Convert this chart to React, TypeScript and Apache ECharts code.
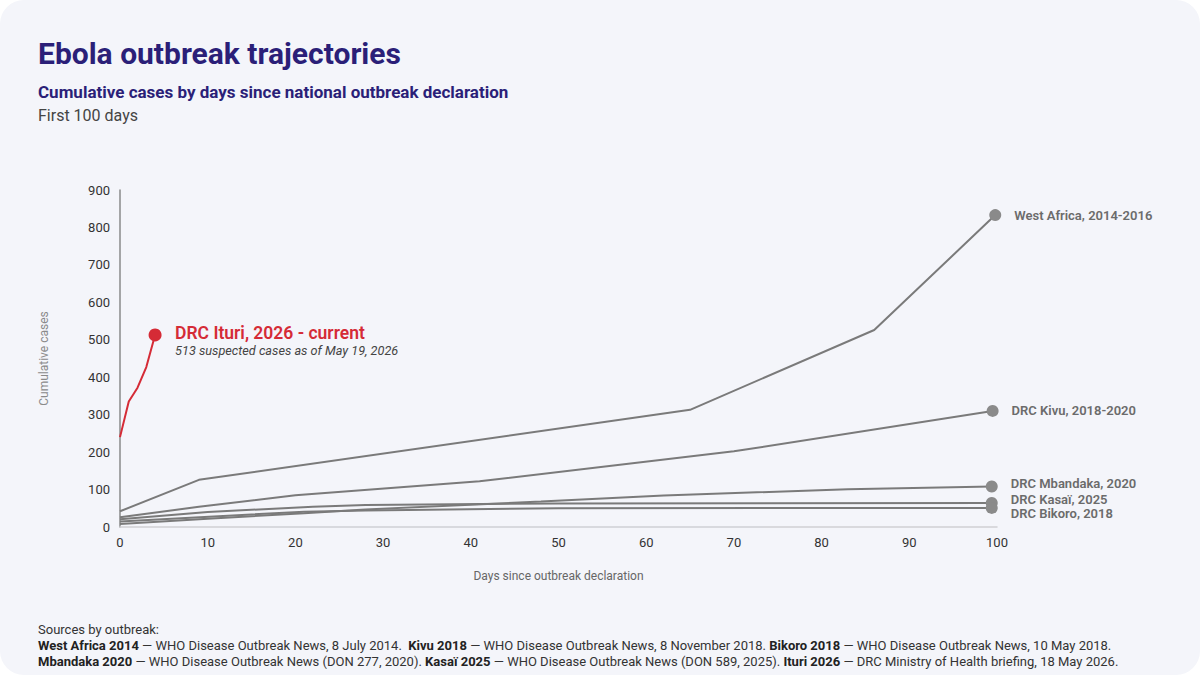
import { useEffect, useRef } from 'react';
import * as echarts from 'echarts';

// Days since declaration / cumulative cases
const westAfricaDays = [0, 9, 65, 86, 99.8];
const westAfricaCases = [42, 126, 313, 526, 833];

const kivuDays = [0, 9, 20, 41, 70, 99.5];
const kivuCases = [26, 54, 85, 122, 202, 310];

const mbandakaDays = [0, 10, 21, 28, 48, 62, 83, 99.4];
const mbandakaCases = [8, 22, 37, 47, 68, 84, 101, 108];

const kasaiDays = [0, 10, 22, 28, 50, 99.4];
const kasaiCases = [21, 40, 54, 59, 63, 64];

const bikoroDays = [0, 21, 28, 50, 99.4];
const bikoroCases = [15, 41, 44, 50, 51];

const ituriDays = [0, 1, 2, 3, 4];
const ituriCases = [240, 335, 372, 427, 513];

const FONT = 'Roboto, "Noto Sans", sans-serif';
const GREY_LINE = '#7a7a7a';
const GREY_DOT = '#8a8a8a';
const RED = '#d52b36';
const INK = '#2b1f78';

function pairs(days: number[], cases: number[]) {
  return days.map((d, i) => [d, cases[i]]);
}

function greySeries(name: string, days: number[], cases: number[], dy: number) {
  const last = days.length - 1;
  return {
    name,
    type: 'line',
    data: pairs(days, cases),
    symbol: 'circle',
    showSymbol: true,
    showAllSymbol: true,
    symbolSize: (_v: any, p: any) => (p.dataIndex === last ? 12 : 0),
    itemStyle: { color: GREY_DOT },
    lineStyle: { color: GREY_LINE, width: 2 },
    emphasis: { disabled: true },
    endLabel: {
      show: true,
      formatter: name,
      offset: [11, dy],
      color: '#6b6b6b',
      fontFamily: FONT,
      fontSize: 13,
      fontWeight: 600
    },
    z: 2
  };
}

export default function App() {
  const chartRef = useRef<HTMLDivElement>(null);

  useEffect(() => {
    document.body.style.margin = '0';
    if (!chartRef.current) return;
    const chart = echarts.init(chartRef.current, null, { renderer: 'svg' });

    const ituriLast = ituriDays.length - 1;

    const option: any = {
      animation: false,
      backgroundColor: 'transparent',
      textStyle: { fontFamily: FONT },
      grid: { left: 120, right: 203, top: 190, bottom: 148 },
      xAxis: {
        type: 'value',
        min: 0,
        max: 100,
        interval: 10,
        name: 'Days since outbreak declaration',
        nameLocation: 'middle',
        nameGap: 43,
        nameTextStyle: { color: '#666', fontSize: 12, fontFamily: FONT },
        axisLine: { show: true, lineStyle: { color: '#cfcfd4', width: 1.5 } },
        axisTick: { show: false },
        splitLine: { show: false },
        axisLabel: { color: '#333', fontSize: 13, margin: 9, fontFamily: FONT }
      },
      yAxis: {
        type: 'value',
        min: 0,
        max: 900,
        interval: 100,
        name: 'Cumulative cases',
        nameLocation: 'middle',
        nameGap: 70,
        nameRotate: 90,
        nameTextStyle: { color: '#8a8a8a', fontSize: 12, fontFamily: FONT },
        axisLine: { show: true, lineStyle: { color: '#8a8a8a', width: 1.5 } },
        axisTick: { show: false },
        splitLine: { show: false },
        axisLabel: { color: '#333', fontSize: 13, margin: 10, fontFamily: FONT }
      },
      series: [
        greySeries('West Africa, 2014-2016', westAfricaDays, westAfricaCases, 0),
        greySeries('DRC Kivu, 2018-2020', kivuDays, kivuCases, 0),
        greySeries('DRC Mbandaka, 2020', mbandakaDays, mbandakaCases, -3),
        greySeries('DRC Kasaï, 2025', kasaiDays, kasaiCases, -4),
        greySeries('DRC Bikoro, 2018', bikoroDays, bikoroCases, 6),
        {
          name: 'DRC Ituri, 2026 - current',
          type: 'line',
          data: pairs(ituriDays, ituriCases),
          symbol: 'circle',
          showSymbol: true,
          showAllSymbol: true,
          symbolSize: (_v: any, p: any) => (p.dataIndex === ituriLast ? 13 : 0),
          itemStyle: { color: RED },
          lineStyle: { color: RED, width: 2 },
          emphasis: { disabled: true },
          endLabel: {
            show: true,
            offset: [12, 6],
            formatter: '{t|DRC Ituri, 2026 - current}\n{s|513 suspected cases as of May 19, 2026}',
            rich: {
              t: { color: RED, fontSize: 17.5, fontWeight: 600, fontFamily: FONT, lineHeight: 20 },
              s: { color: '#444', fontSize: 12.7, fontStyle: 'italic', fontFamily: FONT, lineHeight: 16 }
            }
          },
          z: 3
        }
      ],
      graphic: [
        {
          type: 'text',
          x: 38,
          y: 53,
          style: {
            text: 'Ebola outbreak trajectories',
            fill: INK,
            fontFamily: FONT,
            fontSize: 30,
            fontWeight: 'bold',
            verticalAlign: 'middle'
          }
        },
        {
          type: 'text',
          x: 38,
          y: 92,
          style: {
            text: 'Cumulative cases by days since national outbreak declaration',
            fill: INK,
            fontFamily: FONT,
            fontSize: 17,
            fontWeight: 'bold',
            verticalAlign: 'middle'
          }
        },
        {
          type: 'text',
          x: 38,
          y: 115,
          style: {
            text: 'First 100 days',
            fill: '#444',
            fontFamily: FONT,
            fontSize: 16,
            verticalAlign: 'middle'
          }
        },
        {
          type: 'text',
          x: 38,
          y: 629,
          style: {
            text: 'Sources by outbreak:',
            fill: '#333',
            fontFamily: FONT,
            fontSize: 13,
            verticalAlign: 'middle'
          }
        },
        {
          type: 'text',
          x: 38,
          y: 645,
          style: {
            text:
              '{b|West Africa 2014} — WHO Disease Outbreak News, 8 July 2014.  {b|Kivu 2018} — WHO Disease Outbreak News, 8 November 2018. {b|Bikoro 2018} — WHO Disease Outbreak News, 10 May 2018.',
            fill: '#333',
            fontFamily: FONT,
            fontSize: 13,
            verticalAlign: 'middle',
            rich: {
              b: { fontWeight: 'bold', fontSize: 13, fontFamily: FONT, fill: '#222' }
            }
          }
        },
        {
          type: 'text',
          x: 38,
          y: 661,
          style: {
            text:
              '{b|Mbandaka 2020} — WHO Disease Outbreak News (DON 277, 2020). {b|Kasaï 2025} — WHO Disease Outbreak News (DON 589, 2025). {b|Ituri 2026} — DRC Ministry of Health briefing, 18 May 2026.',
            fill: '#333',
            fontFamily: FONT,
            fontSize: 13,
            verticalAlign: 'middle',
            rich: {
              b: { fontWeight: 'bold', fontSize: 13, fontFamily: FONT, fill: '#222' }
            }
          }
        }
      ]
    };

    chart.setOption(option);

    return () => {
      chart.dispose();
    };
  }, []);

  return (
    <div style={{ width: 1200, height: 675, background: '#ffffff' }}>
      <div
        ref={chartRef}
        style={{
          width: 1200,
          height: 675,
          background: '#f4f5fa',
          borderRadius: 24
        }}
      />
    </div>
  );
}
